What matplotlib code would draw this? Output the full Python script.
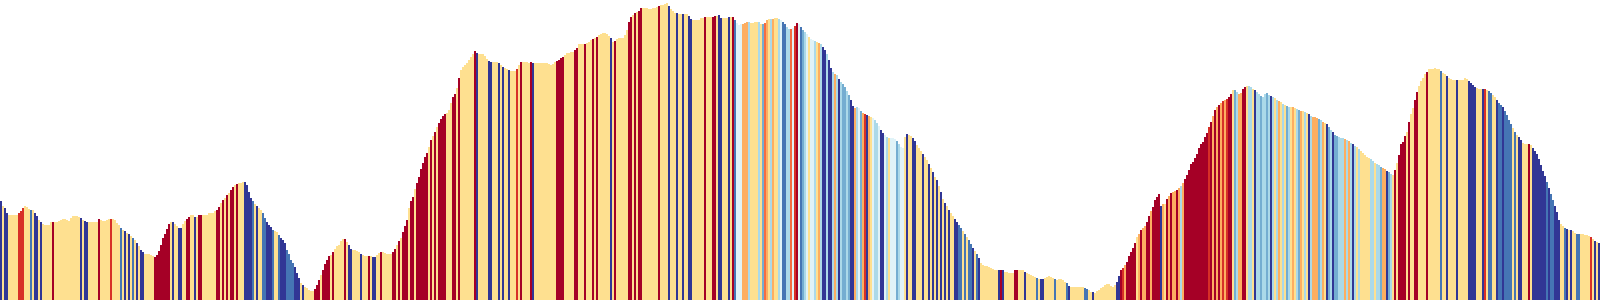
import matplotlib
matplotlib.use("Agg")
import matplotlib.pyplot as plt

# Elevation profile (relative units), one value per sample along the route
elev_0 = [99,94,92,87,85,85,85,85,85,87, 89,92,94,93,91,90,90,87,84,80, 78,76,75,75,75,78,78,78,78,79,
          80,81,81,80,79,82,84,84,84,83, 82,80,79,78,78,78,78,78,78,81, 80,79,79,80,81,81,81,80,77,75,
          72,70,69,67,66,64,62,60,57,54, 50,48,46,46,46,45,44,43,45,49, 55,62,66,71,76,78,78,76,74,72,
          72,76,79,81,83,85,85,83,83,85]
elev_1 = [85,85,85,85,87,87,87,89,90,93, 97,100,102,105,107,110,113,115,116,117, 117,118,118,115,108,102,99,96,94,92,
          90,87,82,78,75,73,70,69,68,65, 62,60,57,50,46,40,37,33,27,22, 17,15,13,12,10,9,9,11,15,20,
          25,30,36,40,44,45,48,51,54,55, 59,61,61,58,55,51,50,50,49,48, 46,45,44,44,44,44,43,43,45,47,
          48,48,47,46,46,46,48,51,55,59]
elev_2 = [62,68,74,80,92,99,103,111,117,123, 131,137,143,147,153,160,164,168,173,177, 181,184,186,187,190,197,203,206,212,222,
          230,233,235,237,240,243,246,249,247,246, 246,246,244,241,239,238,238,238,238,237, 235,233,232,231,230,229,229,229,231,235,
          238,238,238,238,237,238,237,237,237,237, 237,237,237,237,236,235,236,238,239,240, 242,243,245,247,247,248,248,250,252,256,
          256,256,256,257,258,260,261,262,263,265]
elev_3 = [266,267,267,266,264,262,258,259,261,262, 262,262,265,270,278,283,285,287,288,289, 292,292,292,292,291,291,292,292,293,294,
          295,295,296,297,294,291,289,287,287,286, 286,286,286,286,284,281,280,280,280,280, 282,282,283,283,283,283,283,284,284,285,
          282,282,282,282,283,283,283,280,277,275, 276,276,277,278,278,277,277,278,278,278, 276,276,277,280,281,281,281,282,282,281,
          280,278,276,273,271,271,272,274,277,276]
elev_4 = [273,270,268,266,263,261,260,259,258,257, 256,253,250,246,240,232,228,226,225,221, 218,216,213,209,205,200,194,192,193,192,
          189,187,186,185,184,183,182,180,177,174, 170,167,165,163,162,162,162,161,159,156, 153,152,163,166,165,164,162,159,155,152,
          149,146,143,140,136,132,128,123,120,114, 108,101,97,94,90,87,84,81,78,75, 72,69,66,63,60,56,52,49,46,42,
          37,35,34,34,33,32,31,30,30,30]
elev_5 = [30,30,28,28,27,27,27,30,30,30, 30,30,28,27,26,25,24,23,22,21, 21,21,22,23,24,23,22,21,20,21,
          21,20,18,17,14,13,13,13,13,13, 13,13,12,11,10,8,8,7,9,10, 12,13,15,16,16,14,13,15,18,24,
          30,32,35,38,44,48,52,57,63,66, 70,72,74,78,84,89,93,100,103,106, 94,96,96,101,104,107,108,109,110,112,
          114,117,121,125,130,136,138,142,146,152]
elev_6 = [156,158,163,167,173,178,184,190,193,195, 197,199,200,201,203,206,210,210,208,206, 207,211,213,214,214,213,211,210,208,206,
          204,203,206,207,205,204,203,202,200,199, 198,196,195,194,193,193,193,192,191,190, 189,189,188,187,186,184,183,183,182,181,
          180,178,177,176,173,170,168,165,164,163, 162,162,161,160,159,157,156,154,153,151, 149,147,145,143,142,141,139,137,136,135,
          133,132,131,129,128,126,125,130,137,145]
elev_7 = [156,158,164,168,178,186,192,200,208,214, 219,222,226,228,231,231,231,232,231,231, 229,227,226,224,222,221,220,220,220,220,
          220,220,222,221,219,217,215,213,212,211, 211,211,211,210,209,207,205,203,200,197, 195,193,189,185,180,176,172,168,165,163,
          160,157,156,156,156,155,152,149,146,141, 135,129,124,118,112,106,100,94,88,80, 76,74,72,71,70,70,69,67,66,66,
          66,66,65,65,64,63,61,59,58,57]

# Gradient class of each sample (R steep up ... N steep down)
grade_0 = ["NyNNyyyyyr", "rryyyByNNy", "NyyyyyRyyy", "yyyyyyyyyy", "NyNNyyyyyR",
           "yyyyyryyyy", "ByNyNyByNy", "NNyyyyyRRR", "RRRRRyNyyN", "NyyRRyyNyR"]
grade_1 = ["RyyyyyyyRR", "yRyRyRRyRy", "yyNNNNByNy", "yBBNNNByyB", "NNNBBBBNNN",
           "yNyyyyyRRR", "yRRRRyRyyy", "yyRyNNyyyy", "NyyyRyNNyy", "RyyyyyRRyR"]
grade_2 = ["yRRRyRRyRR", "RRRRyRyRyR", "RRRyyyRRyR", "yyyyyyyRNy", "yyyyNNyyyN",
           "yNyyNyyyry", "RyyyyRNyyy", "yyyyyyyyRR", "RRyyyyyRRy", "yyRyyyRyRy"]
grade_3 = ["yyyyyNyRyy", "yyyyRRyRyR", "RyyyyyyyyR", "yyyyNyyyNy", "yNyyNNyyyy",
           "yyRyyyRRyN", "NyyyNyRBcc", "cOOObyyyyb", "ymoOybOyyb", "cBBbbocrRc"]
grade_4 = ["BmbcyccbyO", "bNNbNNbObN", "bmmbmNNObc", "mOrNOycbbc", "NNcbycccmb",
           "ccyNyyNNyy", "yNyyNyNyNy", "NyNyNyyNNB", "ByByBBNyBN", "yyyyyyyyyN"]
grade_5 = ["RNyyyyyRRy", "yyNyyyyyBy", "NNyyyyyByy", "yyyBNyyyyy", "yyBByyNyyy",
           "yyyyyyyyNN", "RrORRRRRyO", "ROORRORRRR", "NOyROROORO", "bORRRRRRRR"]
grade_6 = ["RRRRrROROR", "OrOrRRymbO", "ORRybbyNbb", "mbbmbNbybO", "ybymbyOybm",
           "OybyNbOOOm", "bOyNmbNmmb", "bbObObNbyb", "yyyyybbybb", "mOONmbyRyR"]
grade_7 = ["RRRyRyyRRy", "yyyRyyyyyy", "ByyNyyyyNy", "yyyyNNNNyy", "yNryBByyNB",
           "BNBBBByByN", "NyyyRyNNNN", "NNNBNBBNNN", "yyBNyNyyBB", "yyyyyryNyN"]

class_colors = {
    "R": "#a50026", "r": "#d73027", "o": "#f46d43", "O": "#fdae61", "y": "#fee090",
    "c": "#e0f3f8", "b": "#abd9e9", "m": "#74add1", "B": "#4575b4", "N": "#313695",
}

elevation = elev_0 + elev_1 + elev_2 + elev_3 + elev_4 + elev_5 + elev_6 + elev_7
grades = "".join(grade_0 + grade_1 + grade_2 + grade_3 + grade_4 + grade_5 + grade_6 + grade_7)
n = min(len(elevation), len(grades))
elevation = elevation[:n]
colors = [class_colors[g] for g in grades[:n]]

fig = plt.figure(figsize=(16, 3), dpi=100)
ax = fig.add_axes([0, 0, 1, 1])
ax.bar(range(n), elevation, width=1.0, color=colors, linewidth=0, antialiased=False)
ax.set_xlim(-0.5, n - 0.5)
ax.set_ylim(0, 300)
ax.axis("off")
fig.savefig("out.png", dpi=100, facecolor="white")
